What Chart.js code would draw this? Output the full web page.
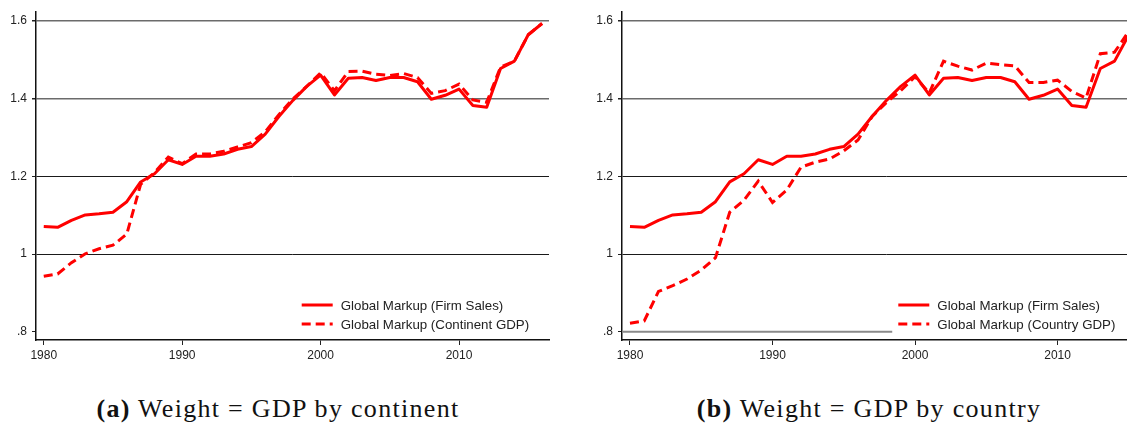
<!DOCTYPE html>
<html>
<head>
<meta charset="utf-8">
<script src="https://cdn.jsdelivr.net/npm/chart.js@4.4.0/dist/chart.umd.min.js"></script>
<style>
  html, body { margin: 0; padding: 0; background: #fff; overflow: hidden; width: 1127px; height: 426px; }
  canvas { position: absolute; top: 0; }
  #cA { left: 0px; }
  #cB { left: 586px; }
  .cap { position: absolute; top: 394px; font-family: "Liberation Serif", serif; font-size: 26px; letter-spacing: 1.3px; color: #111; white-space: nowrap; transform: translateX(-50%); line-height: 30px; }
  .cap b { font-weight: bold; }
</style>
</head>
<body>
<canvas id="cA" width="560" height="370"></canvas>
<canvas id="cB" width="580" height="370"></canvas>
<div class="cap" style="left:278px"><b>(a)</b> Weight = GDP by continent</div>
<div class="cap" style="left:869px"><b>(b)</b> Weight = GDP by country</div>
<script>
const years = [1980,1981,1982,1983,1984,1985,1986,1987,1988,1989,1990,1991,1992,1993,1994,1995,1996,1997,1998,1999,2000,2001,2002,2003,2004,2005,2006,2007,2008,2009,2010,2011,2012,2013,2014,2015,2016];
const firmSales = [1.071,1.069,1.087,1.101,1.104,1.108,1.135,1.186,1.207,1.243,1.231,1.252,1.252,1.258,1.270,1.277,1.309,1.355,1.396,1.432,1.461,1.410,1.453,1.455,1.447,1.455,1.455,1.444,1.399,1.409,1.425,1.383,1.378,1.478,1.497,1.565,1.594];
const continentGDP = [0.943,0.949,0.978,1.001,1.014,1.023,1.052,1.180,1.210,1.250,1.233,1.258,1.258,1.265,1.276,1.287,1.315,1.360,1.400,1.432,1.467,1.421,1.470,1.471,1.463,1.460,1.465,1.455,1.414,1.421,1.438,1.397,1.391,1.482,1.497,1.565,1.594];
const countryGDP = [0.822,0.828,0.904,0.919,0.936,0.959,0.991,1.108,1.139,1.188,1.133,1.165,1.224,1.237,1.245,1.266,1.294,1.355,1.391,1.421,1.457,1.415,1.497,1.484,1.474,1.492,1.488,1.485,1.442,1.442,1.448,1.419,1.402,1.516,1.520,1.574];
const guideYears = [1979.44, 1998.4];
const guideValues = [0.8, 0.8];
const yTicks = [0.8, 1.0, 1.2, 1.4, 1.6];
const yTickLabels = ['.8', '1', '1.2', '1.4', '1.6'];
const xTicks = [1980, 1990, 2000, 2010];
const xTickLabels = ['1980', '1990', '2000', '2010'];

const FONT = { family: '"Liberation Sans", Arial, sans-serif', size: 12 };

const legendPlugin = {
  id: 'insideLegend',
  afterDraw(chart, args, opts) {
    const ctx = chart.ctx, ca = chart.chartArea;
    const items = chart.data.datasets.filter(d => d.label);
    ctx.save();
    ctx.font = '13.3px "Liberation Sans", Arial, sans-serif';
    ctx.textBaseline = 'middle';
    ctx.fillStyle = '#222';
    items.forEach((d, i) => {
      const x0 = ca.left + opts.dx;
      const y = ca.bottom - 35 + i * 19;
      ctx.beginPath();
      ctx.strokeStyle = d.borderColor;
      ctx.lineWidth = d.borderWidth;
      ctx.setLineDash(d.borderDash || []);
      ctx.moveTo(x0, y);
      ctx.lineTo(x0 + 31, y);
      ctx.stroke();
      ctx.setLineDash([]);
      ctx.fillText(d.label, x0 + 39, y + 1);
    });
    ctx.restore();
  }
};

function pts(xs, ys) { return ys.map((v, i) => ({ x: xs[i], y: v })); }

function makeChart(id, second, secondLabel, padRight, legendDx, withGuide) {
  const datasets = [
    { label: 'Global Markup (Firm Sales)', data: pts(years, firmSales), borderColor: '#ff0000', borderWidth: 3, pointRadius: 0, tension: 0, borderJoinStyle: 'round' },
    { label: secondLabel, data: pts(years, second), borderColor: '#ff0000', borderWidth: 3, borderDash: [9, 5], pointRadius: 0, tension: 0 }
  ];
  if (withGuide) {
    datasets.push({ label: '', data: pts(guideYears, guideValues), borderColor: '#8a8a8a', borderWidth: 2, pointRadius: 0 });
  }
  return new Chart(document.getElementById(id), {
    type: 'line',
    data: { datasets },
    plugins: [legendPlugin],
    options: {
      responsive: false,
      animation: false,
      devicePixelRatio: 1,
      layout: { padding: { top: 8, right: padRight, left: 0, bottom: 0 } },
      plugins: { legend: { display: false }, tooltip: { enabled: false }, insideLegend: { dx: legendDx } },
      scales: {
        x: {
          type: 'linear', min: 1979.44, max: 2016.5,
          afterBuildTicks: s => { s.ticks = xTicks.map(v => ({ value: v })); },
          afterFit: s => { s.height = 30; },
          ticks: { font: FONT, color: '#222', padding: 3, maxRotation: 0, autoSkip: false,
                   callback: (v) => xTickLabels[xTicks.indexOf(v)] },
          grid: { drawOnChartArea: false, drawTicks: true, tickLength: 5, tickColor: '#222' },
          border: { display: true, color: '#111', width: 1.5 }
        },
        y: {
          min: 0.779, max: 1.623,
          afterBuildTicks: s => { s.ticks = yTicks.map(v => ({ value: v })); },
          afterFit: s => { s.width = 36; },
          ticks: { font: FONT, color: '#222', padding: 5, autoSkip: false,
                   callback: (v) => yTickLabels[yTicks.findIndex(t => Math.abs(t - v) < 1e-6)] },
          grid: {
            drawTicks: true, tickLength: 4, tickColor: '#222',
            color: c => (c.tick && c.tick.value < 0.9) ? 'rgba(0,0,0,0)' : (c.tick && c.tick.value > 1.3 ? '#6b6b6b' : '#1a1a1a'),
            lineWidth: c => (c.tick && c.tick.value > 1.3) ? 1.5 : 1
          },
          border: { display: true, color: '#111', width: 1.5 }
        }
      }
    }
  });
}

makeChart('cA', continentGDP, 'Global Markup (Continent GDP)', 11, 265.7, false);
makeChart('cB', countryGDP, 'Global Markup (Country GDP)', 15.8, 276.3, true);
</script>
</body>
</html>
